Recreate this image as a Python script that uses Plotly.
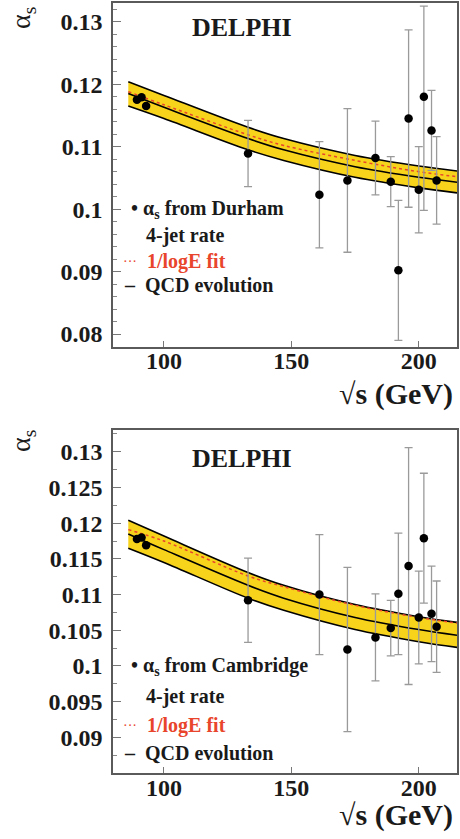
import plotly.graph_objects as go

# ---------------- data ----------------
energy = [89.4, 91.2, 93.0, 133, 161, 172, 183, 189, 192, 196, 200, 202, 205, 207]

alphas_durham = [0.1175, 0.1179, 0.1165, 0.1089, 0.1023, 0.1046, 0.1082, 0.1044,
                 0.0902, 0.1145, 0.1031, 0.1180, 0.1126, 0.1046]
err_up_durham = [0.0, 0.0, 0.0, 0.0053, 0.0085, 0.0115, 0.0059, 0.0040,
                 0.0112, 0.0142, 0.0069, 0.0145, 0.0064, 0.0070]
err_dn_durham = [0.0, 0.0, 0.0, 0.0053, 0.0085, 0.0115, 0.0059, 0.0040,
                 0.0112, 0.0142, 0.0069, 0.0182, 0.0064, 0.0070]

alphas_cambridge = [0.1178, 0.1180, 0.1169, 0.1092, 0.1100, 0.1023, 0.1040, 0.1053,
                    0.1101, 0.1140, 0.1068, 0.1179, 0.1073, 0.1055]
err_cambridge = [0.0, 0.0, 0.0, 0.0059, 0.0084, 0.0115, 0.0061, 0.0039,
                 0.0085, 0.0166, 0.0065, 0.0091, 0.0067, 0.0064]

curve_energy = [86, 100, 133, 147, 175, 200, 215]
qcd_central = [0.1185, 0.1163, 0.1113, 0.1095, 0.1068, 0.1051, 0.1043]
qcd_upper = [0.1204, 0.1182, 0.1131, 0.1113, 0.1086, 0.1069, 0.1061]
qcd_lower = [0.1165, 0.1145, 0.1095, 0.1078, 0.1051, 0.1034, 0.1026]
fit_durham = [0.1188, 0.1167, 0.1119, 0.1102, 0.1078, 0.1060, 0.1052]
fit_cambridge = [0.1191, 0.1175, 0.1126, 0.1111, 0.1085, 0.1068, 0.1060]

x_tickvals = [100, 150, 200]
y_tickvals_top = [0.08, 0.09, 0.10, 0.11, 0.12, 0.13]
y_ticktext_top = ["0.08", "0.09", "0.1", "0.11", "0.12", "0.13"]
y_tickvals_bot = [0.09, 0.095, 0.10, 0.105, 0.11, 0.115, 0.12, 0.125, 0.13]
y_ticktext_bot = ["0.09", "0.095", "0.1", "0.105", "0.11", "0.115", "0.12", "0.125", "0.13"]

# ---------------- styling ----------------
SERIF = "Liberation Serif"
YELLOW = "#F8D31C"
RED = "#E8452C"
FRAME = "#5a5a5a"
ERRC = "#9a9a9a"

fig = go.Figure()


def add_panel(xa, ya, vals, eup, edn, fit):
    fig.add_trace(go.Scatter(x=curve_energy, y=qcd_lower, mode="lines",
                             line=dict(color="black", width=1.6, shape="spline"),
                             xaxis=xa, yaxis=ya, showlegend=False, hoverinfo="skip"))
    fig.add_trace(go.Scatter(x=curve_energy, y=qcd_upper, mode="lines", fill="tonexty",
                             fillcolor=YELLOW,
                             line=dict(color="black", width=1.6, shape="spline"),
                             xaxis=xa, yaxis=ya, showlegend=False, hoverinfo="skip"))
    fig.add_trace(go.Scatter(x=curve_energy, y=fit, mode="lines",
                             line=dict(color=RED, width=1.5, dash="dot", shape="spline"),
                             xaxis=xa, yaxis=ya, showlegend=False))
    fig.add_trace(go.Scatter(x=curve_energy, y=qcd_central, mode="lines",
                             line=dict(color="black", width=1.6, shape="spline"),
                             xaxis=xa, yaxis=ya, showlegend=False))
    fig.add_trace(go.Scatter(x=energy, y=vals, mode="markers",
                             marker=dict(color="black", size=8.5),
                             error_y=dict(type="data", symmetric=False, array=eup,
                                          arrayminus=edn, color=ERRC, thickness=1.3,
                                          width=4),
                             xaxis=xa, yaxis=ya, showlegend=False))


add_panel("x", "y", alphas_durham, err_up_durham, err_dn_durham, fit_durham)
add_panel("x2", "y2", alphas_cambridge, err_cambridge, err_cambridge, fit_cambridge)

tickfont = dict(family=SERIF, size=24, color="#1a1a1a", weight="bold")


def xaxis_cfg(anchor):
    return dict(range=[80, 215], domain=[0, 1], anchor=anchor,
                tickvals=x_tickvals, ticktext=[str(v) for v in x_tickvals],
                ticks="inside", ticklen=6, tickcolor="#777", tickwidth=1,
                showline=True, linecolor=FRAME, linewidth=1.5, mirror=True,
                showgrid=False, zeroline=False, tickfont=tickfont,
                ticklabelstandoff=-8)


def yaxis_cfg(anchor, rng, dom, tv, tt, minor_dtick):
    return dict(range=rng, domain=dom, anchor=anchor,
                tickvals=tv, ticktext=tt,
                ticks="inside", ticklen=8, tickcolor="#777", tickwidth=1,
                minor=dict(ticks="inside", ticklen=4, tickcolor="#888",
                           dtick=minor_dtick, tick0=0.08),
                showline=True, linecolor=FRAME, linewidth=1.5, mirror=True,
                showgrid=False, zeroline=False, tickfont=tickfont,
                ticklabelstandoff=4)


fig.update_layout(
    width=460, height=839,
    margin=dict(l=113, r=1, t=2, b=66),
    paper_bgcolor="white", plot_bgcolor="white",
    xaxis=xaxis_cfg("y"),
    yaxis=yaxis_cfg("x", [0.078, 0.133], [0.5538, 1.0], y_tickvals_top, y_ticktext_top, 0.002),
    xaxis2=xaxis_cfg("y2"),
    yaxis2=yaxis_cfg("x2", [0.085, 0.133], [0.0, 0.4449], y_tickvals_bot, y_ticktext_bot, 0.0025),
)

ann = []
legfont = dict(family=SERIF, size=20, color="#1a1a1a", weight="bold")
redfont = dict(family=SERIF, size=20, color=RED, weight="bold")


def panel_text(xr, yr, label, ys, delphi_y, title_y, alpha_y):
    ann.append(dict(xref=xr, yref=yr, x=0.374, y=delphi_y, text="DELPHI", showarrow=False,
                    xanchor="center", yanchor="middle",
                    font=dict(family=SERIF, size=26, color="#1a1a1a", weight="bold")))
    ann.append(dict(xref=xr, yref=yr, x=0.046, y=ys[0], showarrow=False,
                    xanchor="left", yanchor="middle",
                    text="• α<sub>s</sub> from " + label, font=legfont))
    ann.append(dict(xref=xr, yref=yr, x=0.090, y=ys[1], showarrow=False,
                    xanchor="left", yanchor="middle", text="4-jet rate", font=legfont))
    ann.append(dict(xref=xr, yref=yr, x=0.024, y=ys[2], showarrow=False,
                    xanchor="left", yanchor="middle", text="···",
                    font=dict(family=SERIF, size=14, color=RED)))
    ann.append(dict(xref=xr, yref=yr, x=0.092, y=ys[2], showarrow=False,
                    xanchor="left", yanchor="middle", text="1/logE fit", font=redfont))
    ann.append(dict(xref=xr, yref=yr, x=0.026, y=ys[3], showarrow=False,
                    xanchor="left", yanchor="middle", text="–", font=legfont))
    ann.append(dict(xref=xr, yref=yr, x=0.088, y=ys[3], showarrow=False,
                    xanchor="left", yanchor="middle", text="QCD evolution", font=legfont))
    ann.append(dict(xref=xr, yref=yr, x=0.994, y=title_y, showarrow=False,
                    xanchor="right", yanchor="middle", text="√s (GeV)",
                    font=dict(family=SERIF, size=30, color="#1a1a1a", weight="bold")))
    ann.append(dict(xref=xr, yref=yr, x=-0.263, y=alpha_y, showarrow=False,
                    xanchor="center", yanchor="middle", textangle=-90,
                    text="α<sub>s</sub>",
                    font=dict(family=SERIF, size=28, color="#1a1a1a")))


panel_text("x domain", "y domain", "Durham", [0.398, 0.323, 0.247, 0.180], 0.928, -0.137, 0.955)
panel_text("x2 domain", "y2 domain", "Cambridge", [0.310, 0.222, 0.140, 0.057], 0.917, -0.122, 0.968)

fig.update_layout(annotations=ann)
fig.write_html("out.html",
               config={"displayModeBar": False},
               post_script="document.body.style.margin='0';document.body.style.padding='0';"
                           "document.documentElement.style.overflow='hidden';")
